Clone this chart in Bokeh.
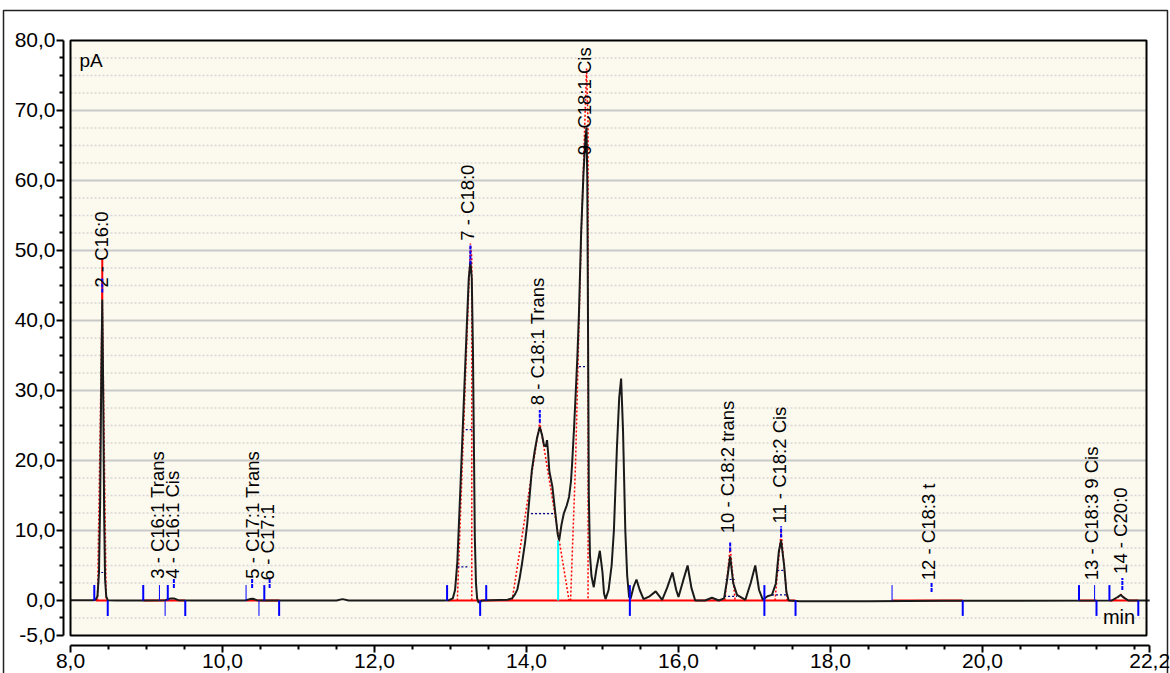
from bokeh.plotting import figure
from bokeh.models import FixedTicker, Range1d, CustomJSTickFormatter
from bokeh.embed import file_html
from bokeh.resources import INLINE
from bokeh.core.properties import value

# ---------------- data ----------------
trace_time = [
    8.00, 8.30, 8.33, 8.355, 8.375, 8.39, 8.405, 8.418, 8.43, 8.443,
    8.455, 8.47, 8.49, 8.60, 8.95, 9.25, 9.32, 9.36, 9.42, 9.60,
    10.30, 10.36, 10.40, 10.45, 10.55, 11.50, 11.58, 11.66, 12.90, 12.98,
    13.03, 13.06, 13.09, 13.13, 13.17, 13.21, 13.24, 13.262, 13.28, 13.295,
    13.31, 13.32, 13.335, 13.35, 13.37, 13.42, 13.75, 13.81, 13.85, 13.88,
    13.91, 13.94, 13.98, 14.01, 14.04, 14.07, 14.11, 14.14, 14.175, 14.205,
    14.23, 14.255, 14.27, 14.285, 14.30, 14.34, 14.38, 14.41, 14.43, 14.46,
    14.49, 14.53, 14.56, 14.585, 14.60, 14.625, 14.645, 14.67, 14.69, 14.72,
    14.75, 14.775, 14.79, 14.80, 14.81, 14.82, 14.835, 14.855, 14.885, 14.92,
    14.965, 15.00, 15.02, 15.04, 15.08, 15.12, 15.15, 15.19, 15.22, 15.245,
    15.27, 15.30, 15.325, 15.35, 15.37, 15.41, 15.447, 15.49, 15.54, 15.62,
    15.70, 15.785, 15.85, 15.92, 15.97, 16.00, 16.06, 16.12, 16.17, 16.22,
    16.35, 16.44, 16.53, 16.60, 16.64, 16.68, 16.72, 16.77, 16.88, 16.95,
    17.01, 17.06, 17.11, 17.17, 17.23, 17.28, 17.32, 17.35, 17.39, 17.42,
    17.45, 17.60, 18.50, 19.50, 20.50, 21.70, 21.78, 21.82, 21.86, 21.92,
    22.20,
]
trace_pA = [
    0.05, 0.05, 0.1, 0.6, 4.0, 14.0, 32.0, 43.0, 30.0, 12.0,
    3.0, 0.6, 0.05, 0.0, 0.0, 0.05, 0.3, 0.3, 0.05, 0.0,
    0.0, 0.2, 0.25, 0.05, 0.0, 0.0, 0.2, 0.0, 0.0, 0.05,
    0.3, 1.5, 5.5, 16.0, 27.0, 38.0, 46.0, 48.5, 46.0, 36.0,
    20.0, 9.0, 2.5, 0.3, -0.3, 0.0, 0.1, 0.3, 0.9, 1.6,
    3.2, 5.2, 8.2, 11.0, 14.8, 18.6, 21.5, 23.3, 24.8, 23.6,
    22.2, 22.0, 22.9, 21.0, 18.5, 16.3, 12.4, 9.5, 8.6, 10.8,
    12.4, 13.6, 14.8, 17.0, 19.5, 24.5, 29.0, 35.0, 41.0, 52.9,
    61.0, 66.0, 67.6, 60.0, 38.0, 15.0, 6.5, 3.5, 1.9, 4.5,
    7.1, 4.0, 1.0, 0.2, 1.5, 5.0, 10.0, 21.9, 29.0, 31.7,
    24.3, 10.0, 3.5, 0.5, 0.3, 2.0, 3.0, 1.5, 0.2, 0.6,
    1.3, 0.1, 1.8, 4.0, 1.5, 0.5, 2.8, 5.0, 1.8, 0.0,
    0.0, 0.4, 0.0, 0.3, 3.0, 6.3, 2.5, 0.8, 0.1, 2.5,
    5.0, 1.5, 0.1, 0.6, 0.8, 2.4, 7.0, 8.6, 5.0, 1.2,
    0.0, -0.1, -0.1, -0.05, -0.05, 0.0, 0.5, 0.8, 0.4, 0.0,
    0.0,
]
assert len(trace_time) == len(trace_pA)

# peak labels
peak_names = ["2 - C16:0", "3 - C16:1 Trans", "4 - C16:1 Cis", "5 - C17:1 Trans",
              "6 - C17:1", "7 - C18:0", "8 - C18:1 Trans", "9 - C18:1 Cis",
              "10 - C18:2 trans", "11 - C18:2 Cis", "12 - C18:3 t",
              "13 - C18:3 9 Cis", "14 - C20:0"]
peak_label_time = [8.408, 9.145, 9.346, 10.39, 10.596, 13.22, 14.14, 14.765,
                   16.64, 17.33, 19.29, 21.43, 21.81]
peak_label_pA = [44.7, 3.1, 3.1, 3.1, 2.9, 51.4, 27.9, 63.6, 9.6, 11.0, 2.9, 2.9, 3.8]

# integration baseline segments (red)
base_start = [8.33, 8.96, 10.31, 12.96, 18.81, 21.27, 21.67]
base_end = [8.49, 9.51, 10.75, 17.54, 19.74, 21.50, 22.05]

# fitted peak outlines (red dotted)
fit_time = [[8.355, 8.418, 8.47], [13.09, 13.262, 13.28, 13.28],
            [13.81, 14.175, 14.43, 14.56], [14.58, 14.645, 14.72, 14.79, 14.81, 14.81],
            [16.61, 16.68, 16.745], [17.27, 17.35, 17.43], [21.74, 21.82, 21.90]]
fit_pA = [[0, 44, 0], [0, 51, 49, 0], [0, 25.5, 8.6, 0], [0, 19.5, 52, 76, 68, 0],
          [0, 7.6, 0], [0, 9.8, 0], [0, 0.9, 0]]
# red stem of C16:0 peak
stem_time = [8.418]
stem_from = [43.0]
stem_to = [48.8]

# peak start / end markers (blue)
start_marks = [8.313, 8.957, 9.28, 10.55, 12.955, 13.47, 21.27, 21.67]
start_marks_thin = [9.17, 10.31, 18.81, 21.475]
end_marks = [8.49, 9.51, 10.745, 13.39, 17.54, 19.74, 21.50, 22.05]
end_marks_thin = [9.245, 10.48]
through_marks = [15.36, 17.13]
# peak apex markers (blue dashed)
apex_time = [8.418, 9.36, 10.39, 10.62, 13.262, 14.175, 16.68, 17.35, 19.33, 21.84]
apex_from = [44.0, 1.8, 1.8, 1.8, 48.0, 25.4, 7.0, 9.0, 1.2, 1.5]
apex_to = [46.0, 3.2, 3.2, 3.2, 50.8, 27.2, 8.4, 10.6, 2.6, 3.2]
# drop line (cyan)
drop_time = [14.416]
drop_to = [8.6]
# half-height width markers (navy dotted)
hw_start = [8.405, 13.09, 13.20, 14.06, 14.69, 16.62, 16.60, 17.30, 17.23]
hw_end = [8.43, 13.25, 13.30, 14.38, 14.80, 16.74, 16.77, 17.38, 17.43]
hw_level = [4.0, 4.8, 24.4, 12.4, 33.4, 3.0, 0.6, 4.3, 0.8]

# axes
x_major = [8.0, 10.0, 12.0, 14.0, 16.0, 18.0, 20.0, 22.2]
x_minor = [8.5, 9.0, 9.5, 10.5, 11.0, 11.5, 12.5, 13.0, 13.5, 14.5, 15.0, 15.5,
           16.5, 17.0, 17.5, 18.5, 19.0, 19.5, 20.5, 21.0, 21.5, 22.0]
y_major = [-5, 0, 10, 20, 30, 40, 50, 60, 70, 80]
y_minor = [-2.5, 2.5, 5, 7.5, 12.5, 15, 17.5, 22.5, 25, 27.5, 32.5, 35, 37.5,
           42.5, 45, 47.5, 52.5, 55, 57.5, 62.5, 65, 67.5, 72.5, 75, 77.5]
grid_solid = [10, 20, 30, 40, 50, 60, 70]
grid_dotted = y_minor

# layout of the report window (data units)
frame_t0, frame_t1 = 8.0, 22.158
frame_y0, frame_y1 = -5.0, 80.0
yaxis_at_time = 7.908
xaxis_at_pA = -6.43
outer_left, outer_right, outer_top = 7.1184, 22.434, 84.286

FONT = "Liberation Sans"

p = figure(width=1170, height=673, output_backend="svg", toolbar_location=None,
           x_range=Range1d(7.0789, 22.4737), y_range=Range1d(-10.4286, 85.714),
           min_border=0, min_border_left=0, min_border_right=0,
           min_border_top=0, min_border_bottom=0)
p.outline_line_color = None
p.xgrid.visible = False
p.ygrid.visible = False
p.background_fill_color = "white"
p.border_fill_color = "white"

# outer border of the report
p.line([outer_left, outer_left, outer_right, outer_right],
       [-10.4286, outer_top, outer_top, -10.4286], line_color="#222222", line_width=1.5)

# beige data window
p.quad(left=[frame_t0], right=[frame_t1], bottom=[frame_y0], top=[frame_y1],
       fill_color="#FCF9EE", line_color=None)

# grid lines
p.segment(x0=[frame_t0] * len(grid_dotted), x1=[frame_t1] * len(grid_dotted),
          y0=grid_dotted, y1=grid_dotted, line_color="#D6D6D6", line_width=1.5,
          line_dash="2 2")
p.segment(x0=[frame_t0] * len(grid_solid), x1=[frame_t1] * len(grid_solid),
          y0=grid_solid, y1=grid_solid, line_color="#C9C9C9", line_width=2)

# baseline red segments
p.segment(x0=base_start, x1=base_end, y0=[0] * len(base_start), y1=[0] * len(base_end),
          line_color="#FF0000", line_width=2)

# fitted outlines
p.multi_line(xs=fit_time, ys=fit_pA, line_color="#FF0000", line_width=1.5, line_dash="2 2")
p.segment(x0=stem_time, x1=stem_time, y0=stem_from, y1=stem_to, line_color="#FF0000",
          line_width=2)

# half-width markers
p.segment(x0=hw_start, x1=hw_end, y0=hw_level, y1=hw_level, line_color="#000090",
          line_width=1.2, line_dash="2 2")

# drop line
p.segment(x0=drop_time, x1=drop_time, y0=[0] * len(drop_time), y1=drop_to,
          line_color="#00FFFF", line_width=2)

# chromatogram trace
p.line(trace_time, trace_pA, line_color="#1A1A1A", line_width=2)

# markers
p.segment(x0=start_marks, x1=start_marks, y0=[0] * len(start_marks),
          y1=[2.2] * len(start_marks), line_color="#0000FF", line_width=2)
p.segment(x0=start_marks_thin, x1=start_marks_thin, y0=[0] * len(start_marks_thin),
          y1=[2.2] * len(start_marks_thin), line_color="#0000FF", line_width=1)
p.segment(x0=end_marks, x1=end_marks, y0=[0] * len(end_marks),
          y1=[-2.2] * len(end_marks), line_color="#0000FF", line_width=2)
p.segment(x0=end_marks_thin, x1=end_marks_thin, y0=[0] * len(end_marks_thin),
          y1=[-2.2] * len(end_marks_thin), line_color="#0000FF", line_width=1)
p.segment(x0=through_marks, x1=through_marks, y0=[2.2] * len(through_marks),
          y1=[-2.2] * len(through_marks), line_color="#0000FF", line_width=2)
p.segment(x0=apex_time, x1=apex_time, y0=apex_from, y1=apex_to,
          line_color="#0000FF", line_width=2, line_dash="4 1")

# frame border
p.quad(left=[frame_t0], right=[frame_t1], bottom=[frame_y0], top=[frame_y1],
       fill_color=None, line_color="black", line_width=2)

# peak labels
p.text(x=peak_label_time, y=peak_label_pA, text=peak_names, angle=1.5708,
       text_align="left", text_baseline="middle", text_font=value(FONT),
       text_font_size="18.5px", text_color="black")

# unit labels
p.text(x=[8.118], y=[78.7], text=["pA"], text_align="left", text_baseline="top",
       text_font=value(FONT), text_font_size="19px", text_color="black")
p.text(x=[21.585], y=[-0.8], text=["min"], text_align="left", text_baseline="top",
       text_font=value(FONT), text_font_size="20px", text_color="black")

# axes (drawn at fixed positions, offset from the data window)
fmt = CustomJSTickFormatter(code="return tick.toFixed(1).replace('.', ',');")
for ax in (p.xaxis[0], p.yaxis[0]):
    ax.formatter = fmt
    ax.axis_line_width = 2
    ax.axis_line_color = "black"
    ax.major_tick_line_width = 2
    ax.minor_tick_line_width = 2
    ax.major_tick_line_color = "black"
    ax.minor_tick_line_color = "black"
    ax.major_tick_out = 7
    ax.major_tick_in = 0
    ax.minor_tick_out = 4
    ax.minor_tick_in = 0
    ax.major_label_text_font = FONT
    ax.major_label_text_font_size = "21px"
    ax.major_label_text_color = "black"
    ax.major_label_standoff = 1

p.xaxis[0].ticker = FixedTicker(ticks=x_major, minor_ticks=x_minor)
p.yaxis[0].ticker = FixedTicker(ticks=y_major, minor_ticks=y_minor)
p.xaxis[0].bounds = (8.0, 22.2)
p.yaxis[0].bounds = (-5.0, 80.0)
p.xaxis[0].fixed_location = xaxis_at_pA
p.yaxis[0].fixed_location = yaxis_at_time

open("out.html", "w").write(file_html(p, INLINE))
